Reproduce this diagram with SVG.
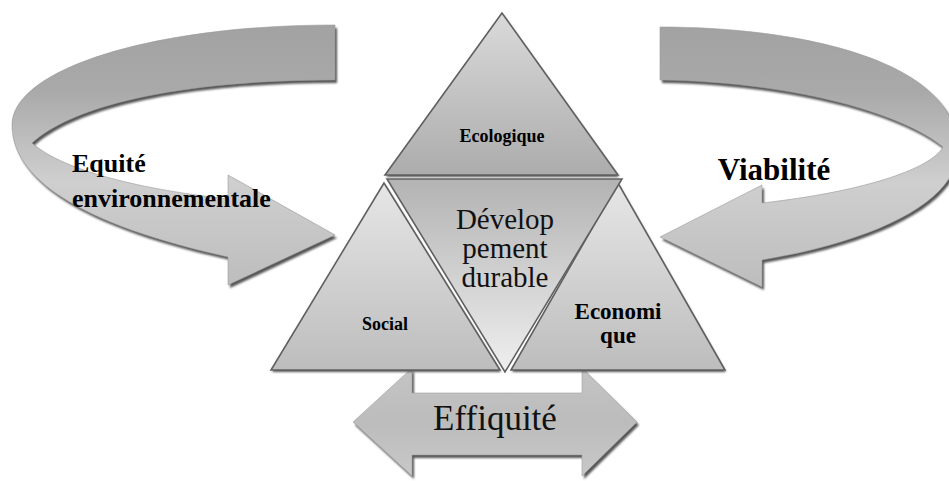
<svg xmlns="http://www.w3.org/2000/svg" width="949" height="481" viewBox="0 0 949 481">
  <defs>
    <linearGradient id="gRibbon" x1="0" y1="0" x2="0" y2="1">
      <stop offset="0" stop-color="#a2a2a2"/>
      <stop offset="0.25" stop-color="#a9a9a9"/>
      <stop offset="0.6" stop-color="#cfcfcf"/>
      <stop offset="1" stop-color="#bdbdbd"/>
    </linearGradient>
    <linearGradient id="gDouble" x1="0" y1="0" x2="0" y2="1">
      <stop offset="0" stop-color="#c4c4c4"/>
      <stop offset="0.5" stop-color="#bcbcbc"/>
      <stop offset="1" stop-color="#c8c8c8"/>
    </linearGradient>
    <linearGradient id="gUp" x1="0" y1="0" x2="0" y2="1">
      <stop offset="0" stop-color="#e6e6e6"/>
      <stop offset="1" stop-color="#bdbdbd"/>
    </linearGradient>
    <linearGradient id="gTop" x1="0" y1="0" x2="0" y2="1">
      <stop offset="0" stop-color="#dadada"/>
      <stop offset="1" stop-color="#acacac"/>
    </linearGradient>
    <linearGradient id="gDown" x1="0" y1="0" x2="0" y2="1">
      <stop offset="0" stop-color="#b3b3b3"/>
      <stop offset="1" stop-color="#efefef"/>
    </linearGradient>
    <filter id="blur" x="-10%" y="-10%" width="120%" height="130%">
      <feGaussianBlur stdDeviation="1.2"/>
    </filter>
  </defs>
  <style>
    .shadow { fill: #555555; filter: url(#blur); }
    .ribbon { fill: url(#gRibbon); stroke: #9a9a9a; stroke-width: 0.6; }
    .tri { stroke: #606060; stroke-width: 1.6; stroke-linejoin: miter; }
    .bold { font-family: "Liberation Serif", "Times New Roman", serif; font-weight: bold; fill: #000; text-anchor: middle; }
    .reg { font-family: "Liberation Serif", "Times New Roman", serif; fill: #111; text-anchor: middle; }
  </style>

  <g id="connectors">
    <g id="arrow-equite">
      <path id="pL" class="shadow" transform="translate(2,3)" d="M335 25 C150 25 12 70 12 125 C12 170 60 220 228 257 L228 285 L335 235 L228 175 L228 199 C130 188 60 168 32 143 C80 100 200 80 335 80 Z"/>
      <path class="ribbon" d="M335 25 C150 25 12 70 12 125 C12 170 60 220 228 257 L228 285 L335 235 L228 175 L228 199 C130 188 60 168 32 143 C80 100 200 80 335 80 Z"/>
      <text class="bold" x="72" y="172" font-size="26" text-anchor="start" style="text-anchor:start">Equité</text>
      <text class="bold" x="72" y="207" font-size="26" style="text-anchor:start">environnementale</text>
    </g>
    <g id="arrow-viabilite">
      <path class="shadow" transform="translate(2,3)" d="M660 27 C800 27 958 60 958 150 C958 200 880 240 762 260 L762 287 L660 237 L762 185 L762 203 C860 192 930 170 943 147 C900 112 790 82 660 80 Z"/>
      <path class="ribbon" d="M660 27 C800 27 958 60 958 150 C958 200 880 240 762 260 L762 287 L660 237 L762 185 L762 203 C860 192 930 170 943 147 C900 112 790 82 660 80 Z"/>
      <text class="bold" x="774" y="180" font-size="31">Viabilité</text>
    </g>
    <g id="arrow-effiquite">
      <polygon class="shadow" transform="translate(2,3)" points="353,422 412,368 412,393 582,393 582,368 637,422 582,476 582,455 412,455 412,476"/>
      <polygon fill="url(#gDouble)" stroke="#a0a0a0" stroke-width="0.6" points="353,422 412,368 412,393 582,393 582,368 637,422 582,476 582,455 412,455 412,476"/>
      <text class="reg" x="495" y="430" font-size="35">Effiquité</text>
    </g>
  </g>

  <g id="node-ecologique">
    <polygon class="shadow" transform="translate(1,2)" points="502,13 385,175 618,175"/>
    <polygon class="tri" fill="url(#gTop)" points="502,13 385,175 618,175"/>
    <text class="bold" x="502" y="142" font-size="18">Ecologique</text>
  </g>
  <g id="node-social">
    <polygon class="shadow" transform="translate(1,2)" points="384,183 271,370 500,370"/>
    <polygon class="tri" fill="url(#gUp)" points="384,183 271,370 500,370"/>
    <text class="bold" x="385" y="330" font-size="18">Social</text>
  </g>
  <g id="node-economique">
    <polygon class="shadow" transform="translate(1,2)" points="618,183 511,370 725,370"/>
    <polygon class="tri" fill="url(#gUp)" points="618,183 511,370 725,370"/>
    <text class="bold" x="618" y="319" font-size="23">Economi</text>
    <text class="bold" x="618" y="343" font-size="23">que</text>
  </g>
  <g id="node-developpement">
    <polygon class="tri" fill="url(#gDown)" points="387,179 622,179 505,372"/>
    <text class="reg" x="505" y="229" font-size="29">Dévelop</text>
    <text class="reg" x="505" y="258" font-size="29">pement</text>
    <text class="reg" x="505" y="287" font-size="29">durable</text>
  </g>
</svg>
